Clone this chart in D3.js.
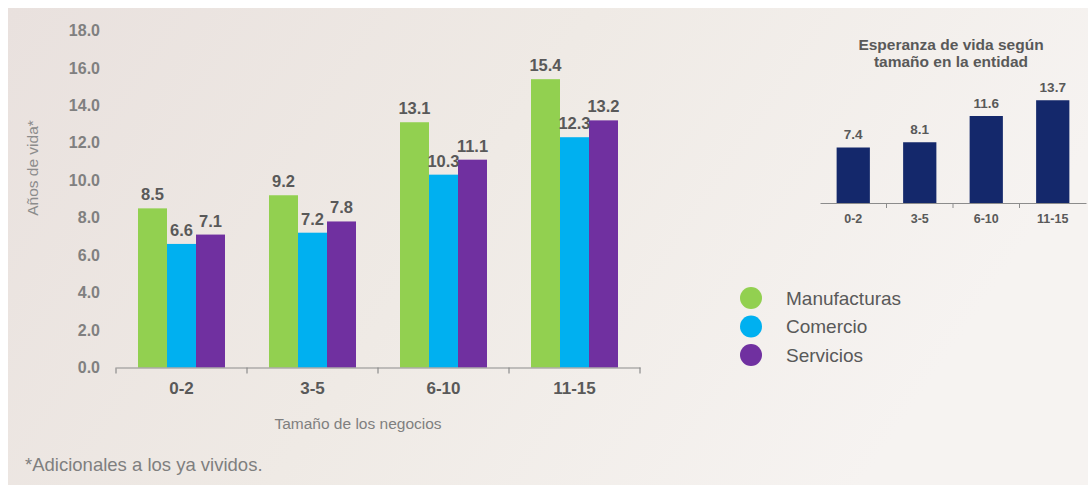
<!DOCTYPE html>
<html>
<head>
<meta charset="utf-8">
<script src="https://cdn.jsdelivr.net/npm/d3@7"></script>
<style>
  html, body { margin: 0; padding: 0; background: #ffffff; }
  svg { display: block; font-family: "Liberation Sans", Arial, sans-serif; }
</style>
</head>
<body>
<svg id="chart" width="1088" height="485"></svg>
<script>
// Business size groups (number of employees)
const categories = ["0-2", "3-5", "6-10", "11-15"];
const seriesNames = ["Manufacturas", "Comercio", "Servicios"];
const manufacturas = [8.5, 9.2, 13.1, 15.4];
const comercio = [6.6, 7.2, 10.3, 12.3];
const servicios = [7.1, 7.8, 11.1, 13.2];
const yTicks = [0, 2, 4, 6, 8, 10, 12, 14, 16, 18];
// Overall life expectancy in the state, by size
const totalEntidad = [7.4, 8.1, 11.6, 13.7];

const colors = ["#92D050", "#00B0F0", "#7030A0"];
const navy = "#14286B";

const svg = d3.select("#chart");

// Background panel
const defs = svg.append("defs");
const grad = defs.append("linearGradient").attr("id", "bg").attr("x1", "0").attr("x2", "1").attr("y1", "0").attr("y2", "0.3");
grad.append("stop").attr("offset", "0").attr("stop-color", "#E9E1DE");
grad.append("stop").attr("offset", "0.5").attr("stop-color", "#EFEAE5");
grad.append("stop").attr("offset", "1").attr("stop-color", "#F6F3F1");
svg.append("rect").attr("x", 0).attr("y", 0).attr("width", 1088).attr("height", 485).attr("fill", "#ffffff");
svg.append("rect").attr("x", 8).attr("y", 8).attr("width", 1080).attr("height", 477).attr("fill", "url(#bg)");

// ---- Main grouped bar chart ----
const x0 = d3.scaleBand().domain(categories).range([116, 640]).paddingInner(0).paddingOuter(0);
const x1 = d3.scaleBand().domain(seriesNames).range([22, x0.bandwidth() - 22]).padding(0);
const y = d3.scaleLinear().domain([0, 18]).range([367.5, 30.5]);

const series = [manufacturas, comercio, servicios];

// Y tick labels (no axis line)
svg.append("g").selectAll("text").data(yTicks).join("text")
  .attr("x", 100).attr("y", d => y(d)).attr("dy", "0.35em")
  .attr("text-anchor", "end")
  .attr("font-size", 16).attr("font-weight", "bold").attr("fill", "#808080")
  .text(d => d.toFixed(1));

// Bars
const groups = svg.append("g").selectAll("g").data(categories).join("g")
  .attr("transform", d => `translate(${x0(d)},0)`);

groups.selectAll("rect").data((c, i) => seriesNames.map((s, k) => ({ s, k, v: series[k][i] })))
  .join("rect")
  .attr("x", d => x1(d.s)).attr("width", x1.bandwidth())
  .attr("y", d => y(d.v)).attr("height", d => y(0) - y(d.v))
  .attr("fill", d => colors[d.k]);

groups.selectAll("text.val").data((c, i) => seriesNames.map((s, k) => ({ s, k, v: series[k][i] })))
  .join("text").attr("class", "val")
  .attr("x", d => x1(d.s) + x1.bandwidth() / 2)
  .attr("y", d => y(d.v) - 8)
  .attr("text-anchor", "middle")
  .attr("font-size", 16.5).attr("font-weight", "bold").attr("fill", "#595959")
  .text(d => d.v.toFixed(1));

// X axis
const xAxis = d3.axisBottom(x0).tickSize(0).tickPadding(14);
const gx = svg.append("g").attr("transform", `translate(0,${y(0)})`).call(xAxis);
gx.select(".domain").attr("stroke", "#8c8c8c").attr("stroke-width", 1.2);
gx.selectAll(".tick text").attr("font-size", 17).attr("font-weight", "bold").attr("fill", "#595959")
  .attr("font-family", "Liberation Sans, Arial, sans-serif");
// Tick marks at band boundaries
const bounds = categories.map(c => x0(c)).concat([x0.range()[1]]);
gx.selectAll("line.bound").data(bounds).join("line").attr("class", "bound")
  .attr("x1", d => d).attr("x2", d => d).attr("y1", 0).attr("y2", 6)
  .attr("stroke", "#8c8c8c").attr("stroke-width", 1.2);

// Axis titles
svg.append("text").attr("x", 358).attr("y", 429).attr("text-anchor", "middle")
  .attr("font-size", 15.5).attr("fill", "#7f7f7f").text("Tamaño de los negocios");
svg.append("text").attr("transform", "translate(38,168) rotate(-90)").attr("text-anchor", "middle")
  .attr("font-size", 15.5).attr("fill", "#8c8c8c").text("Años de vida*");

// Footnote
svg.append("text").attr("x", 25).attr("y", 471)
  .attr("font-size", 18.5).attr("fill", "#7f7f7f").text("*Adicionales a los ya vividos.");

// Legend
const legend = svg.append("g").selectAll("g").data(seriesNames).join("g")
  .attr("transform", (d, i) => `translate(751,${298 + i * 28.5})`);
legend.append("circle").attr("r", 11).attr("fill", (d, i) => colors[i]);
legend.append("text").attr("x", 35).attr("dy", "0.35em")
  .attr("font-size", 19).attr("fill", "#595959").text(d => d);

// ---- Inset chart ----
const ix = d3.scaleBand().domain(categories).range([820, 1086]).paddingInner(0.5).paddingOuter(0.25);
const iy = d3.scaleLinear().domain([0, 14]).range([203, 98]);

svg.append("text").attr("x", 951).attr("y", 50).attr("text-anchor", "middle")
  .attr("font-size", 15.5).attr("font-weight", "bold").attr("fill", "#595959").text("Esperanza de vida según");
svg.append("text").attr("x", 951).attr("y", 67).attr("text-anchor", "middle")
  .attr("font-size", 15.5).attr("font-weight", "bold").attr("fill", "#595959").text("tamaño en la entidad");

svg.append("g").selectAll("rect").data(totalEntidad).join("rect")
  .attr("x", (d, i) => ix(categories[i])).attr("width", ix.bandwidth())
  .attr("y", d => iy(d)).attr("height", d => iy(0) - iy(d))
  .attr("fill", navy);

svg.append("g").selectAll("text").data(totalEntidad).join("text")
  .attr("x", (d, i) => ix(categories[i]) + ix.bandwidth() / 2)
  .attr("y", d => iy(d) - 8.5).attr("text-anchor", "middle")
  .attr("font-size", 13.5).attr("font-weight", "bold").attr("fill", "#595959")
  .text(d => d.toFixed(1));

const igx = svg.append("g").attr("transform", `translate(0,${iy(0)})`)
  .call(d3.axisBottom(ix).tickSize(0).tickPadding(11));
igx.select(".domain").attr("stroke", "#8c8c8c");
igx.selectAll(".tick text").attr("font-size", 12.5).attr("font-weight", "bold").attr("fill", "#595959")
  .attr("font-family", "Liberation Sans, Arial, sans-serif");
const istep = ix.step();
const ibounds = categories.slice(1).map(c => ix(c) - istep * ix.paddingInner() / 2);
igx.selectAll("line.bound").data(ibounds).join("line").attr("class", "bound")
  .attr("x1", d => d).attr("x2", d => d).attr("y1", 0).attr("y2", 5)
  .attr("stroke", "#8c8c8c");
</script>
</body>
</html>
